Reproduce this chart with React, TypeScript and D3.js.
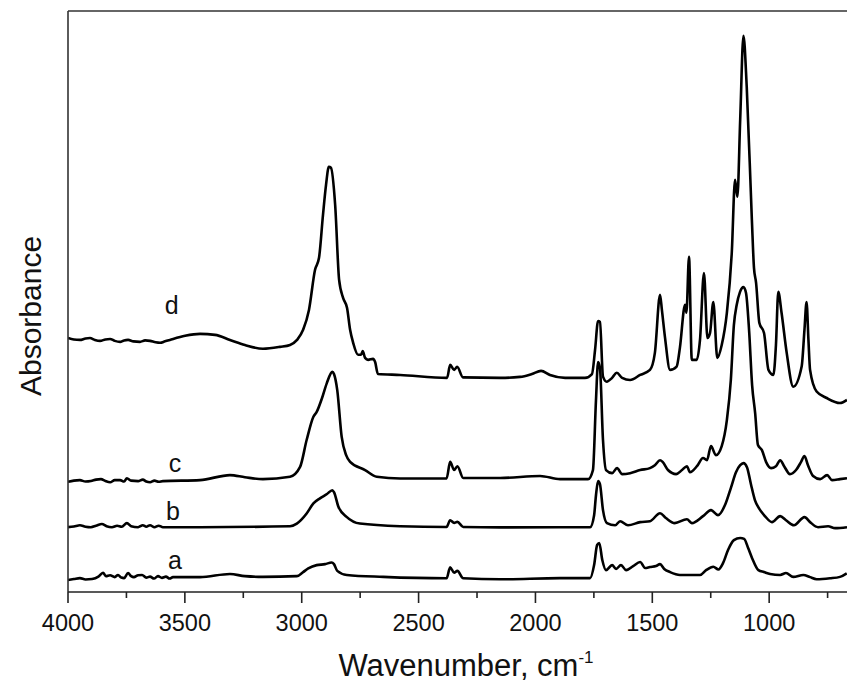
import React from "react";
import * as d3 from "d3";

// FTIR spectra, [wavenumber cm-1, absorbance above each curve's own baseline]
const spectrumA: [number, number][] = [
  [4000, -0.008], [3975, -0.004], [3949, 0], [3925, -0.006], [3897, -0.004], [3870, 0.006],
  [3850, 0.022], [3838, 0.008], [3820, 0.012], [3800, 0.004], [3786, 0.013], [3772, 0.002],
  [3760, 0], [3743, 0.021], [3730, 0.008], [3718, 0.004], [3700, 0.012], [3683, 0.013],
  [3665, 0.002], [3649, 0.006], [3632, -0.002], [3615, 0.008], [3598, 0.001], [3581, 0.006],
  [3565, -0.002], [3551, 0.004], [3435, 0.004], [3307, 0.017], [3243, 0.008], [3166, 0.005],
  [3021, 0.008], [2994, 0.025], [2972, 0.04], [2936, 0.054], [2900, 0.058], [2872, 0.065],
  [2862, 0.058], [2848, 0.03], [2807, 0.013], [2651, 0.005], [2380, -0.001], [2365, 0.045],
  [2348, 0.022], [2334, 0.03], [2309, -0.001], [2151, -0.005], [1895, 0], [1766, 0],
  [1749, 0.054], [1736, 0.138], [1727, 0.146], [1714, 0.075], [1698, 0.033], [1672, 0.054],
  [1655, 0.038], [1634, 0.054], [1612, 0.033], [1582, 0.05], [1552, 0.067], [1531, 0.042],
  [1510, 0.046], [1484, 0.05], [1467, 0.058], [1449, 0.038], [1424, 0.025], [1382, 0.013],
  [1339, 0.013], [1296, 0.013], [1270, 0.033], [1239, 0.047], [1217, 0.036], [1197, 0.063],
  [1176, 0.117], [1151, 0.158], [1124, 0.167], [1107, 0.163], [1090, 0.125], [1073, 0.083],
  [1046, 0.033], [1022, 0.025], [996, 0.017], [953, 0.013], [928, 0.021], [897, 0.005],
  [854, 0.013], [825, 0.004], [797, -0.005], [740, -0.001], [697, 0.005], [668, 0.02],
];

const spectrumB: [number, number][] = [
  [4000, 0], [3975, 0.003], [3949, 0.008], [3925, 0.002], [3902, 0], [3880, 0.006],
  [3855, 0.013], [3835, 0.004], [3812, 0], [3790, 0.006], [3770, 0.002], [3748, 0.017],
  [3730, 0.004], [3700, 0], [3680, 0.008], [3665, 0.002], [3649, 0.008], [3630, 0],
  [3612, 0.006], [3594, 0], [3435, 0], [3050, 0.004], [3021, 0.015],
  [2979, 0.057], [2950, 0.099], [2922, 0.12], [2892, 0.138], [2869, 0.154], [2862, 0.146],
  [2843, 0.085], [2808, 0.043], [2751, 0.015], [2579, 0.004], [2380, 0.001], [2365, 0.029],
  [2348, 0.018], [2334, 0.022], [2309, 0.001], [2151, -0.001], [1766, 0], [1749, 0.05],
  [1741, 0.133], [1732, 0.192], [1724, 0.179], [1711, 0.071], [1694, 0.017], [1659, 0.008],
  [1638, 0.025], [1604, 0.008], [1552, 0.021], [1510, 0.025], [1467, 0.058], [1442, 0.038],
  [1404, 0.017], [1352, 0.033], [1331, 0.017], [1283, 0.046], [1249, 0.071], [1219, 0.05],
  [1189, 0.092], [1164, 0.163], [1142, 0.229], [1124, 0.258], [1110, 0.267], [1095, 0.25],
  [1078, 0.179], [1061, 0.113], [1044, 0.079], [1018, 0.046], [988, 0.021], [953, 0.046],
  [928, 0.029], [894, 0.008], [849, 0.042], [825, 0.021], [791, 0], [748, 0.004],
  [718, -0.004], [667, 0],
];

const spectrumC: [number, number][] = [
  [4000, -0.011], [3975, -0.006], [3949, -0.004], [3925, -0.01], [3902, -0.008], [3880, -0.002],
  [3859, 0], [3840, -0.008], [3820, -0.013], [3800, -0.004], [3777, -0.004], [3760, -0.01],
  [3748, 0.004], [3730, -0.006], [3700, -0.008], [3680, -0.002], [3665, -0.01], [3649, -0.013],
  [3630, -0.006], [3612, -0.011], [3594, -0.008], [3435, -0.004], [3307, 0.017],
  [3243, 0.008], [3166, 0], [3050, 0.01], [3007, 0.051], [2979, 0.163], [2950, 0.26],
  [2936, 0.28], [2913, 0.338], [2893, 0.399], [2869, 0.447], [2862, 0.438], [2848, 0.371],
  [2829, 0.176], [2810, 0.1], [2793, 0.072], [2729, 0.038], [2679, 0.01], [2579, 0.003],
  [2380, 0.003], [2365, 0.072], [2348, 0.038], [2334, 0.054], [2309, 0.005], [2151, 0.005],
  [1980, 0.013], [1895, 0], [1775, 0], [1754, 0.038], [1741, 0.329], [1732, 0.488],
  [1724, 0.463], [1711, 0.163], [1698, 0.038], [1672, 0.025], [1651, 0.046], [1629, 0.021],
  [1595, 0.025], [1552, 0.038], [1510, 0.046], [1489, 0.058], [1467, 0.079], [1455, 0.071],
  [1433, 0.038], [1398, 0.021], [1373, 0.038], [1352, 0.054], [1339, 0.029], [1309, 0.054],
  [1283, 0.088], [1266, 0.079], [1249, 0.138], [1228, 0.1], [1203, 0.138], [1181, 0.246],
  [1164, 0.413], [1151, 0.642], [1139, 0.725], [1125, 0.779], [1110, 0.8], [1099, 0.775],
  [1086, 0.621], [1073, 0.392], [1060, 0.275], [1048, 0.142], [1031, 0.121], [1013, 0.071],
  [992, 0.046], [971, 0.054], [953, 0.079], [936, 0.054], [911, 0.021], [885, 0.038],
  [864, 0.071], [849, 0.096], [834, 0.058], [812, 0.013], [782, 0], [752, 0.017],
  [731, -0.004], [697, 0], [667, 0.004],
];

const spectrumD: [number, number][] = [
  [4000, 0.158], [3975, 0.152], [3949, 0.15], [3925, 0.156], [3906, 0.158], [3885, 0.15],
  [3863, 0.146], [3840, 0.152], [3820, 0.154], [3800, 0.146], [3777, 0.142], [3760, 0.148],
  [3743, 0.15], [3720, 0.144], [3692, 0.142], [3670, 0.148], [3649, 0.146], [3625, 0.14],
  [3606, 0.138], [3585, 0.144], [3564, 0.15], [3499, 0.167],
  [3435, 0.175], [3371, 0.171], [3307, 0.15], [3243, 0.129], [3166, 0.113], [3093, 0.121],
  [3050, 0.129], [3020, 0.15], [2994, 0.192], [2969, 0.275], [2943, 0.442], [2926, 0.492],
  [2909, 0.671], [2896, 0.796], [2884, 0.871], [2875, 0.867], [2857, 0.713], [2840, 0.4],
  [2823, 0.325], [2806, 0.283], [2793, 0.192], [2780, 0.138], [2759, 0.088], [2746, 0.088],
  [2739, 0.104], [2729, 0.075], [2716, 0.067], [2695, 0.071], [2686, 0.058], [2674, 0.008],
  [2579, 0.004], [2378, -0.008], [2365, 0.046], [2348, 0.025], [2335, 0.038], [2310, -0.006],
  [2151, -0.008], [2066, -0.004], [2015, 0.008], [1976, 0.021], [1938, 0.004], [1873, -0.008],
  [1788, -0.008], [1758, 0.008], [1745, 0.108], [1732, 0.229], [1724, 0.225], [1711, -0.003],
  [1695, -0.024], [1672, -0.008], [1652, 0.013], [1629, -0.008], [1595, -0.017], [1552, 0.004],
  [1510, 0.025], [1489, 0.096], [1467, 0.338], [1459, 0.275], [1446, 0.163], [1424, 0.025],
  [1396, 0.039], [1382, 0.117], [1360, 0.296], [1354, 0.263], [1343, 0.496], [1331, 0.067],
  [1310, 0.067], [1296, 0.15], [1279, 0.429], [1264, 0.158], [1253, 0.179], [1239, 0.308],
  [1222, 0.075], [1203, 0.129], [1181, 0.263], [1160, 0.513], [1146, 0.817], [1136, 0.746],
  [1124, 1.067], [1110, 1.417], [1096, 1.204], [1074, 0.65], [1065, 0.45], [1056, 0.388],
  [1042, 0.221], [1022, 0.179], [1003, 0.025], [982, 0.004], [971, 0.129], [961, 0.35],
  [947, 0.263], [925, 0.096], [897, -0.045], [861, 0.039], [849, 0.192], [840, 0.308],
  [832, 0.15], [825, 0.025], [797, -0.065], [754, -0.092], [697, -0.113], [667, -0.1],
];

const seriesNames = ["a", "b", "c", "d"];
const seriesData = [spectrumA, spectrumB, spectrumC, spectrumD];
// vertical stacking offsets (absorbance units)
const seriesOffsets = [0.058, 0.27, 0.47, 0.9];
// where each curve label sits: wavenumber, absorbance
const labelPos: [number, number][] = [[3542, 0.095], [3551, 0.3], [3542, 0.5], [3556, 1.16]];

const majorTicks = [4000, 3500, 3000, 2500, 2000, 1500, 1000];
const minorTicks = [3750, 3250, 2750, 2250, 1750, 1250, 750];

const W = 847;
const H = 693;
const left = 68;
const top = 11;
const bottom = 592;
const font = "'Liberation Sans', Arial, sans-serif";

export default function App() {
  const x = d3.scaleLinear().domain([4000, 667]).range([left, W]);
  const y = d3.scaleLinear().domain([0, 2.42]).range([bottom, top]);

  const lines = seriesData.map((data, i) =>
    d3
      .line<[number, number]>()
      .x((d) => x(d[0]))
      .y((d) => y(d[1] + seriesOffsets[i]))
      .curve(d3.curveMonotoneX)(data) as string
  );

  return (
    <svg
      width={W}
      height={H}
      style={{ position: "absolute", left: 0, top: 0, background: "#fff" }}
      fontFamily={font}
    >
      <defs>
        <clipPath id="plot">
          <rect x={left} y={top} width={W - left} height={bottom - top} />
        </clipPath>
      </defs>

      <g clipPath="url(#plot)">
        {lines.map((p, i) => (
          <path
            key={i}
            d={p}
            fill="none"
            stroke="#000"
            strokeWidth={2.6}
            strokeLinejoin="round"
          />
        ))}
      </g>

      {/* frame */}
      <line x1={left} x2={W} y1={top} y2={top} stroke="#333" strokeWidth={1.6} />
      <line x1={left} x2={left} y1={top} y2={bottom} stroke="#333" strokeWidth={1.6} />
      <line x1={left} x2={W} y1={bottom} y2={bottom} stroke="#222" strokeWidth={1.6} />

      {majorTicks.map((t) => (
        <g key={t}>
          <line x1={x(t)} x2={x(t)} y1={bottom} y2={bottom + 11} stroke="#222" strokeWidth={1.6} />
          <text x={x(t)} y={631} textAnchor="middle" fontSize={23.5} fill="#111">
            {t}
          </text>
        </g>
      ))}
      {minorTicks.map((t) => (
        <line key={t} x1={x(t)} x2={x(t)} y1={bottom} y2={bottom + 6} stroke="#222" strokeWidth={1.6} />
      ))}

      {seriesNames.map((n, i) => (
        <text
          key={n}
          x={x(labelPos[i][0])}
          y={y(labelPos[i][1])}
          textAnchor="middle"
          fontSize={25}
          fill="#111"
        >
          {n}
        </text>
      ))}

      <text x={466} y={676} textAnchor="middle" fontSize={31} fill="#111">
        Wavenumber, cm
        <tspan fontSize={17} dy={-13}>
          -1
        </tspan>
      </text>
      <text
        transform={`translate(41, 316) rotate(-90)`}
        textAnchor="middle"
        fontSize={30}
        fill="#111"
      >
        Absorbance
      </text>
    </svg>
  );
}
